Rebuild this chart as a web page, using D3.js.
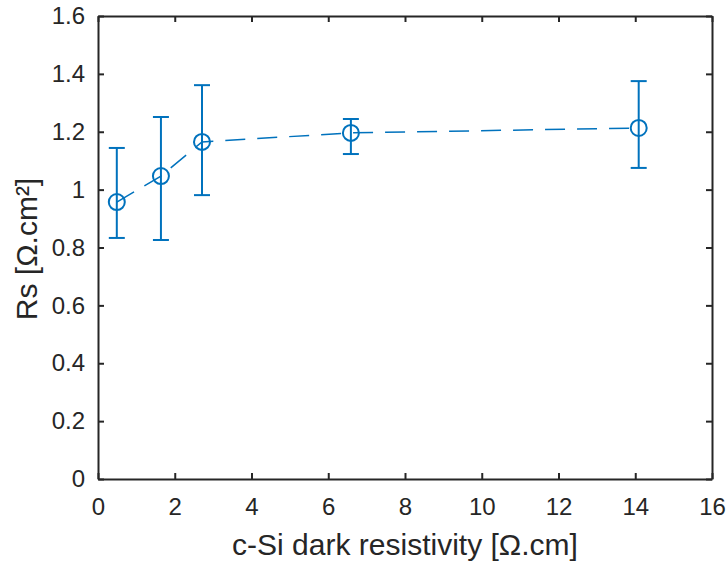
<!DOCTYPE html>
<html><head><meta charset="utf-8">
<script src="https://cdn.jsdelivr.net/npm/d3@7"></script>
<style>body{margin:0;background:#fff}svg{display:block}</style>
</head><body>
<svg id="c" width="727" height="562"></svg>
<script>
const xVals = [0.49, 1.64, 2.71, 6.59, 14.09];
const yVals = [0.957, 1.047, 1.165, 1.196, 1.213];
const yLow  = [0.833, 0.826, 0.981, 1.123, 1.075];
const yHigh = [1.144, 1.251, 1.361, 1.244, 1.375];
const xTicks = [0,2,4,6,8,10,12,14,16];
const yTicks = [0,0.2,0.4,0.6,0.8,1,1.2,1.4,1.6];
const xLabel = "c-Si dark resistivity [Ω.cm]";
const yLabel = "Rs [Ω.cm²]";

const L=98,R=712,T=16,B=479;
const svg=d3.select("#c");
const x=d3.scaleLinear().domain([0,16]).range([L,R]);
const y=d3.scaleLinear().domain([0,1.6]).range([B,T]);
const col="#0072BD", ax="#262626", font="'Liberation Sans', Arial, sans-serif";

const gx=svg.append("g").attr("transform",`translate(0,${B})`)
  .call(d3.axisBottom(x).tickValues(xTicks).tickFormat(d3.format("d")).tickSizeInner(-6).tickSizeOuter(0).tickPadding(19));
const gy=svg.append("g").attr("transform",`translate(${L},0)`)
  .call(d3.axisLeft(y).tickValues(yTicks).tickFormat(d=>String(d)).tickSizeInner(-6).tickSizeOuter(0).tickPadding(13));
const gx2=svg.append("g").attr("transform",`translate(0,${T})`)
  .call(d3.axisTop(x).tickValues(xTicks).tickFormat("").tickSizeInner(-6).tickSizeOuter(0));
const gy2=svg.append("g").attr("transform",`translate(${R},0)`)
  .call(d3.axisRight(y).tickValues(yTicks).tickFormat("").tickSizeInner(-6).tickSizeOuter(0));
[gx,gy,gx2,gy2].forEach(g=>{
  g.selectAll("path,line").attr("stroke",ax).attr("stroke-width",2);
  g.selectAll("text").attr("fill",ax).style("font-family",font).style("font-size","24px");
});

const line=d3.line().x((d,i)=>x(xVals[i])).y(d=>y(d));
svg.append("path").datum(yVals).attr("d",line).attr("fill","none")
  .attr("stroke",col).attr("stroke-width",1.5).attr("stroke-dasharray","20,12");

const eb=svg.append("g").attr("stroke",col).attr("stroke-width",2);
xVals.forEach((xv,i)=>{
  eb.append("line").attr("x1",x(xv)).attr("x2",x(xv)).attr("y1",y(yLow[i])).attr("y2",y(yHigh[i]));
  [yLow[i],yHigh[i]].forEach(v=>eb.append("line").attr("x1",x(xv)-8).attr("x2",x(xv)+8).attr("y1",y(v)).attr("y2",y(v)));
});
svg.append("g").selectAll("circle").data(yVals).join("circle")
  .attr("cx",(d,i)=>x(xVals[i])).attr("cy",d=>y(d)).attr("r",8)
  .attr("fill","none").attr("stroke",col).attr("stroke-width",2);

svg.append("text").attr("x",(L+R)/2).attr("y",555).attr("text-anchor","middle")
  .attr("fill",ax).style("font-family",font).style("font-size","30px").text(xLabel);
svg.append("text").attr("transform",`translate(37,249) rotate(-90)`).attr("text-anchor","middle")
  .attr("fill",ax).style("font-family",font).style("font-size","30px").text(yLabel);
</script>
</body></html>
